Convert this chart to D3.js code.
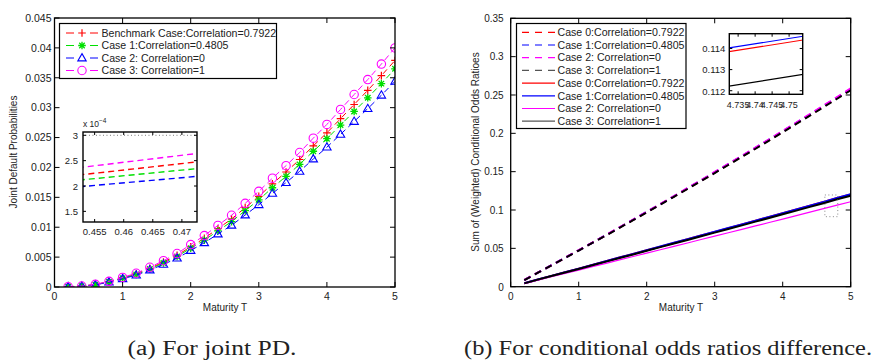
<!DOCTYPE html>
<html><head><meta charset="utf-8">
<script src="https://cdn.jsdelivr.net/npm/d3@7"></script>
<style>
body{margin:0;background:#fff;}
svg{display:block;font-family:"Liberation Sans",Arial,sans-serif;}
</style></head>
<body>
<svg id="c" width="874" height="361"></svg>
<script>
// ---------- DATA ----------
const maturity = [0.2,0.4,0.6,0.8,1.0,1.2,1.4,1.6,1.8,2.0,2.2,2.4,2.6,2.8,3.0,3.2,3.4,3.6,3.8,4.0,4.2,4.4,4.6,4.8,5.0];

// (a) joint default probabilities
const pdBenchmark = [0.00005,0.000155,0.00041,0.0009,0.00152,0.00218,0.00313,0.00417,0.00531,0.00673,0.00815,0.00976,0.01138,0.01327,0.01517,0.01725,0.01924,0.02133,0.02361,0.02579,0.02816,0.03053,0.0329,0.03536,0.0379];
const pdCase1     = [0.00005,0.000153,0.000377,0.00087,0.00146,0.0021,0.00301,0.00401,0.00511,0.00648,0.00784,0.00939,0.01094,0.01277,0.01459,0.0166,0.01851,0.02052,0.02271,0.02481,0.02709,0.02937,0.03165,0.03402,0.0365];
const pdCase2     = [0.00004,0.000145,0.000349,0.00082,0.00138,0.00198,0.00284,0.00378,0.00482,0.00611,0.0074,0.00886,0.01032,0.01204,0.01376,0.01565,0.01746,0.01935,0.02141,0.02339,0.02554,0.02769,0.02984,0.03208,0.0344];
const pdCase3     = [0.00005,0.000164,0.00044,0.00095,0.0016,0.0023,0.0033,0.0044,0.0056,0.0071,0.0086,0.0103,0.0120,0.0140,0.0160,0.0182,0.0203,0.0225,0.0249,0.0272,0.0297,0.0322,0.0347,0.0373,0.0400];
const pdLabels = ["Benchmark Case:Correlation=0.7922","Case 1:Correlation=0.4805","Case 2: Correlation=0","Case 3: Correlation=1"];

// (b) sum of (weighted) conditional odds ratios
const orDash0 = [0.0087,0.0183,0.0279,0.0376,0.0474,0.0572,0.0671,0.0771,0.0871,0.0972,0.1073,0.1176,0.1278,0.1382,0.1487,0.1592,0.1698,0.1805,0.1912,0.2019,0.2128,0.2238,0.2348,0.2459,0.2570];
const orDash1 = [0.0087,0.0183,0.0280,0.0377,0.0475,0.0573,0.0672,0.0772,0.0873,0.0975,0.1076,0.1179,0.1282,0.1387,0.1492,0.1597,0.1703,0.1810,0.1918,0.2026,0.2135,0.2245,0.2355,0.2467,0.2578];
const orDash2 = [0.0088,0.0184,0.0280,0.0378,0.0476,0.0574,0.0674,0.0774,0.0875,0.0977,0.1079,0.1182,0.1286,0.1390,0.1496,0.1601,0.1708,0.1815,0.1923,0.2031,0.2141,0.2251,0.2362,0.2473,0.2585];
const orDash3 = [0.0086,0.0182,0.0278,0.0374,0.0472,0.0570,0.0668,0.0768,0.0867,0.0969,0.1069,0.1172,0.1274,0.1378,0.1482,0.1587,0.1693,0.1799,0.1906,0.2013,0.2122,0.2231,0.2341,0.2451,0.2562];
const orSolid0 = [0.0044,0.0093,0.0141,0.0189,0.0236,0.0284,0.0332,0.0380,0.0427,0.0475,0.0523,0.0571,0.0619,0.0667,0.0715,0.0764,0.0812,0.0861,0.0909,0.0958,0.1007,0.1056,0.11048,0.11557,0.1204];
const orSolid1 = [0.0044,0.0093,0.0141,0.0189,0.0236,0.0284,0.0332,0.0380,0.0428,0.0476,0.0524,0.0572,0.0620,0.0668,0.0716,0.0765,0.0813,0.0862,0.0910,0.0959,0.1008,0.1057,0.11065,0.11575,0.1206];
const orSolid2 = [0.0040,0.0086,0.0130,0.0174,0.0217,0.0261,0.0305,0.0350,0.0394,0.0438,0.0482,0.0526,0.0570,0.0615,0.0659,0.0704,0.0748,0.0793,0.0837,0.0882,0.0927,0.0972,0.1018,0.1063,0.1108];
const orSolid3 = [0.0043,0.0092,0.0139,0.0186,0.0232,0.0280,0.0327,0.0374,0.0421,0.0469,0.0516,0.0563,0.0610,0.0658,0.0705,0.0753,0.0800,0.0849,0.0896,0.0944,0.0992,0.1041,0.10888,0.11393,0.1187];
const orLabels = ["Case 0:Correlation=0.7922","Case 1:Correlation=0.4805","Case 2: Correlation=0","Case 3: Correlation=1"];

const xTicks = [0,1,2,3,4,5];
const pdTicks = [0,0.005,0.01,0.015,0.02,0.025,0.03,0.035,0.04,0.045];
const pdTickLabels = ["0","0.005","0.01","0.015","0.02","0.025","0.03","0.035","0.04","0.045"];
const orTicks = [0,0.05,0.1,0.15,0.2,0.25,0.3,0.35];
const orTickLabels = ["0","0.05","0.1","0.15","0.2","0.25","0.3","0.35"];
const insetATicksX = [0.455,0.46,0.465,0.47];
const insetATicksY = [0.00015,0.0002,0.00025,0.0003];
const insetATickLabelsY = ["1.5","2","2.5","3"];
const insetBTicksX = [4.735,4.74,4.745,4.75];
const insetBTickLabelsX = ["4.735","4.74","4.745","4.75"];
const insetBTicksY = [0.112,0.113,0.114];
const captions = ["(a)  For joint PD.","(b)  For conditional odds ratios difference."];

// ---------- DRAW ----------
const svg = d3.select("#c");
const colors = ["#ff0000","#00e000","#0000ff","#ff00ff"];
const colorsB = ["#ff0000","#0000ff","#ff00ff","#000000"];
let clipId = 0;

function frame(g, x, y, xt, xl, yt, yl, o) {
  const [x0,x1] = x.range(), [y0,y1] = y.range();
  const tl = o.tick || 5;
  const fs = o.fs || 10.5;
  xt.forEach((t,i)=>{
    const px = x(t);
    g.append("line").attr("x1",px).attr("x2",px).attr("y1",y0).attr("y2",y0-tl).attr("stroke","#000");
    g.append("line").attr("x1",px).attr("x2",px).attr("y1",y1).attr("y2",y1+tl).attr("stroke","#000");
    g.append("text").attr("x",px).attr("y",y0+(o.xlOff||13)).attr("text-anchor","middle")
      .attr("font-size",o.xfs||fs).attr("fill","#222").text(xl[i]);
  });
  yt.forEach((t,i)=>{
    const py = y(t);
    g.append("line").attr("x1",x0).attr("x2",x0+tl).attr("y1",py).attr("y2",py).attr("stroke","#000");
    g.append("line").attr("x1",x1).attr("x2",x1-tl).attr("y1",py).attr("y2",py).attr("stroke","#000");
    g.append("text").attr("x",x0-(o.ylOff||3)).attr("y",py+3.8).attr("text-anchor","end")
      .attr("font-size",fs).attr("fill","#222").text(yl[i]);
  });
}
function box(g,x,y,w){
  const [x0,x1] = x.range(), [y0,y1] = y.range();
  g.append("rect").attr("x",x0).attr("y",y1).attr("width",x1-x0).attr("height",y0-y1)
    .attr("fill","none").attr("stroke","#000").attr("stroke-width",w||1.3);
}
function clip(g,x,y){
  const [x0,x1] = x.range(), [y0,y1] = y.range();
  const id = "clip"+(clipId++);
  svg.append("clipPath").attr("id",id).append("rect").attr("x",x0).attr("y",y1).attr("width",x1-x0).attr("height",y0-y1);
  return g.append("g").attr("clip-path",`url(#${id})`);
}
function marker(g, type, cx, cy, col, s) {
  s = s||3.8;
  if (type==="plus") {
    g.append("path").attr("d",`M${cx-s},${cy}H${cx+s}M${cx},${cy-s}V${cy+s}`).attr("stroke",col).attr("stroke-width",1.2).attr("fill","none");
  } else if (type==="star") {
    const d = s*0.72;
    g.append("path").attr("d",`M${cx-s},${cy}H${cx+s}M${cx},${cy-s}V${cy+s}M${cx-d},${cy-d}L${cx+d},${cy+d}M${cx-d},${cy+d}L${cx+d},${cy-d}`)
      .attr("stroke",col).attr("stroke-width",1.3).attr("fill","none");
  } else if (type==="tri") {
    g.append("path").attr("d",`M${cx},${cy-s-0.6}L${cx+s+0.4},${cy+s*0.75}L${cx-s-0.4},${cy+s*0.75}Z`).attr("stroke",col).attr("stroke-width",1.1).attr("fill","none");
  } else {
    g.append("circle").attr("cx",cx).attr("cy",cy).attr("r",s+0.4).attr("stroke",col).attr("stroke-width",1.1).attr("fill","none");
  }
}

// ===== Panel (a) =====
{
  const g = svg.append("g");
  const x = d3.scaleLinear().domain([0,5]).range([54.5,395]);
  const y = d3.scaleLinear().domain([0,0.045]).range([287,18]);
  const series = [pdBenchmark,pdCase1,pdCase2,pdCase3];
  const types = ["plus","star","tri","circ"];
  const cg = clip(g,x,y);
  const line = d3.line().x((d,i)=>x(maturity[i])).y(d=>y(d));
  series.forEach((s,k)=>{
    cg.append("path").attr("d",line(s)).attr("fill","none").attr("stroke",colors[k]).attr("stroke-width",1).attr("stroke-dasharray","6,4");
    s.forEach((v,i)=>marker(cg,types[k],x(maturity[i]),y(v),colors[k]));
  });
  frame(g,x,y,xTicks,xTicks.map(String),pdTicks,pdTickLabels,{fs:10.5,xlOff:13,ylOff:3});
  box(g,x,y);
  g.append("text").attr("x",225).attr("y",311).attr("text-anchor","middle").attr("font-size",10).attr("fill","#222").text("Maturity T");
  g.append("text").attr("transform","translate(17,152) rotate(-90)").attr("text-anchor","middle").attr("font-size",10).attr("fill","#222").text("Joint Default Probabilities");
  // legend
  const lg = g.append("g");
  lg.append("rect").attr("x",59.5).attr("y",23.5).attr("width",217).attr("height",55).attr("fill","#fff").attr("stroke","#000").attr("stroke-width",1.2);
  pdLabels.forEach((t,k)=>{
    const yy = 33 + k*12.5;
    lg.append("line").attr("x1",66).attr("x2",74).attr("y1",yy).attr("y2",yy).attr("stroke",colors[k]);
    lg.append("line").attr("x1",90).attr("x2",98).attr("y1",yy).attr("y2",yy).attr("stroke",colors[k]);
    marker(lg,types[k],82,yy,colors[k]);
    lg.append("text").attr("x",101.5).attr("y",yy+3.7).attr("font-size",10.6).attr("fill","#222").text(t);
  });
  // inset
  const ix = d3.scaleLinear().domain([0.453,0.4726]).range([83,197]);
  const iy = d3.scaleLinear().domain([0.000129,0.0003065]).range([222,132]);
  const ig = g.append("g");
  ig.append("rect").attr("x",83).attr("y",132).attr("width",114).attr("height",90).attr("fill","#fff");
  const icg = clip(ig,ix,iy);
  const iline = d3.line().x((d,i)=>ix(maturity[i])).y(d=>iy(d));
  [[cg,x,y],[icg,ix,iy]].forEach(([gg,sx,sy])=>{
    gg.append("rect").attr("x",sx(0.445)).attr("y",sy(0.0003)).attr("width",sx(0.48)-sx(0.445)).attr("height",sy(0.00011)-sy(0.0003))
      .attr("fill","none").attr("stroke","#777").attr("stroke-dasharray","1,2.5").attr("stroke-width",1);
  });
  series.forEach((s,k)=>{
    icg.append("path").attr("d",iline(s)).attr("fill","none").attr("stroke",colors[k]).attr("stroke-width",1.4).attr("stroke-dasharray","6,4");
  });
  frame(ig,ix,iy,insetATicksX,insetATicksX.map(String),insetATicksY,insetATickLabelsY,{fs:9.5,tick:3,xlOff:13,ylOff:5});
  box(ig,ix,iy,1.4);
  const ex = ig.append("text").attr("x",83).attr("y",127).attr("font-size",8.5).attr("fill","#222");
  ex.append("tspan").text("x 10");
  ex.append("tspan").attr("dy",-4).attr("font-size",6.5).text("−4");
}

// ===== Panel (b) =====
{
  const g = svg.append("g");
  const x = d3.scaleLinear().domain([0,5]).range([510.7,850.7]);
  const y = d3.scaleLinear().domain([0,0.35]).range([286.7,18.3]);
  const dashed = [orDash0,orDash1,orDash2,orDash3];
  const solid = [orSolid0,orSolid1,orSolid2,orSolid3];
  const cg = clip(g,x,y);
  const line = d3.line().x((d,i)=>x(maturity[i])).y(d=>y(d));
  dashed.forEach((s,k)=>cg.append("path").attr("d",line(s)).attr("fill","none").attr("stroke",colorsB[k]).attr("stroke-width",2).attr("stroke-dasharray","7,5"));
  solid.forEach((s,k)=>cg.append("path").attr("d",line(s)).attr("fill","none").attr("stroke",colorsB[k]).attr("stroke-width",k===2?1.2:2));
  cg.append("rect").attr("x",x(4.62)).attr("y",y(0.1196)).attr("width",x(4.81)-x(4.62)).attr("height",y(0.0913)-y(0.1196))
    .attr("fill","none").attr("stroke","#888").attr("stroke-dasharray","1,2.5");
  frame(g,x,y,xTicks,xTicks.map(String),orTicks,orTickLabels,{fs:10,xlOff:13,ylOff:7});
  box(g,x,y);
  g.append("text").attr("x",681).attr("y",311).attr("text-anchor","middle").attr("font-size",10).attr("fill","#222").text("Maturity T");
  g.append("text").attr("transform","translate(479,152) rotate(-90)").attr("text-anchor","middle").attr("font-size",10).attr("fill","#222").text("Sum of (Weighted) Conditional Odds Ratioes");
  // legend
  const lg = g.append("g");
  lg.append("rect").attr("x",516.5).attr("y",23.5).attr("width",169.5).attr("height",105).attr("fill","#fff").attr("stroke","#000").attr("stroke-width",1.2);
  orLabels.concat(orLabels).forEach((t,i)=>{
    const yy = 32.3 + i*12.7;
    const k = i%4;
    lg.append("line").attr("x1",522).attr("x2",555).attr("y1",yy).attr("y2",yy).attr("stroke",k===3?"#555":colorsB[k]).attr("stroke-width",1.2)
      .attr("stroke-dasharray",i<4?"7,6":null);
    lg.append("text").attr("x",557.5).attr("y",yy+3.7).attr("font-size",10.6).attr("fill","#222").text(t);
  });
  // inset
  const ix = d3.scaleLinear().domain([4.7324,4.754]).range([729.3,802.7]);
  const iy = d3.scaleLinear().domain([0.11183,0.1147]).range([94.3,33.7]);
  const ig = g.append("g");
  ig.append("rect").attr("x",729.3).attr("y",33.7).attr("width",73.4).attr("height",60.6).attr("fill","#fff");
  const icg = clip(ig,ix,iy);
  const iline = d3.line().x((d,i)=>ix(maturity[i])).y(d=>iy(d));
  solid.forEach((s,k)=>icg.append("path").attr("d",iline(s)).attr("fill","none").attr("stroke",colorsB[k]).attr("stroke-width",1.2));
  frame(ig,ix,iy,insetBTicksX,insetBTickLabelsX,insetBTicksY,insetBTicksY.map(String),{fs:9.5,xfs:9,tick:3,xlOff:14,ylOff:4});
  box(ig,ix,iy,1.4);
}

// captions
svg.append("text").attr("x",212).attr("y",355).attr("text-anchor","middle").attr("font-family","'Liberation Serif',serif").attr("font-size",20.5)
  .attr("textLength",169).attr("lengthAdjust","spacingAndGlyphs").attr("fill","#222").text(captions[0]);
svg.append("text").attr("x",668).attr("y",355).attr("text-anchor","middle").attr("font-family","'Liberation Serif',serif").attr("font-size",20.5)
  .attr("textLength",408).attr("lengthAdjust","spacingAndGlyphs").attr("fill","#222").text(captions[1]);
</script>
</body></html>
